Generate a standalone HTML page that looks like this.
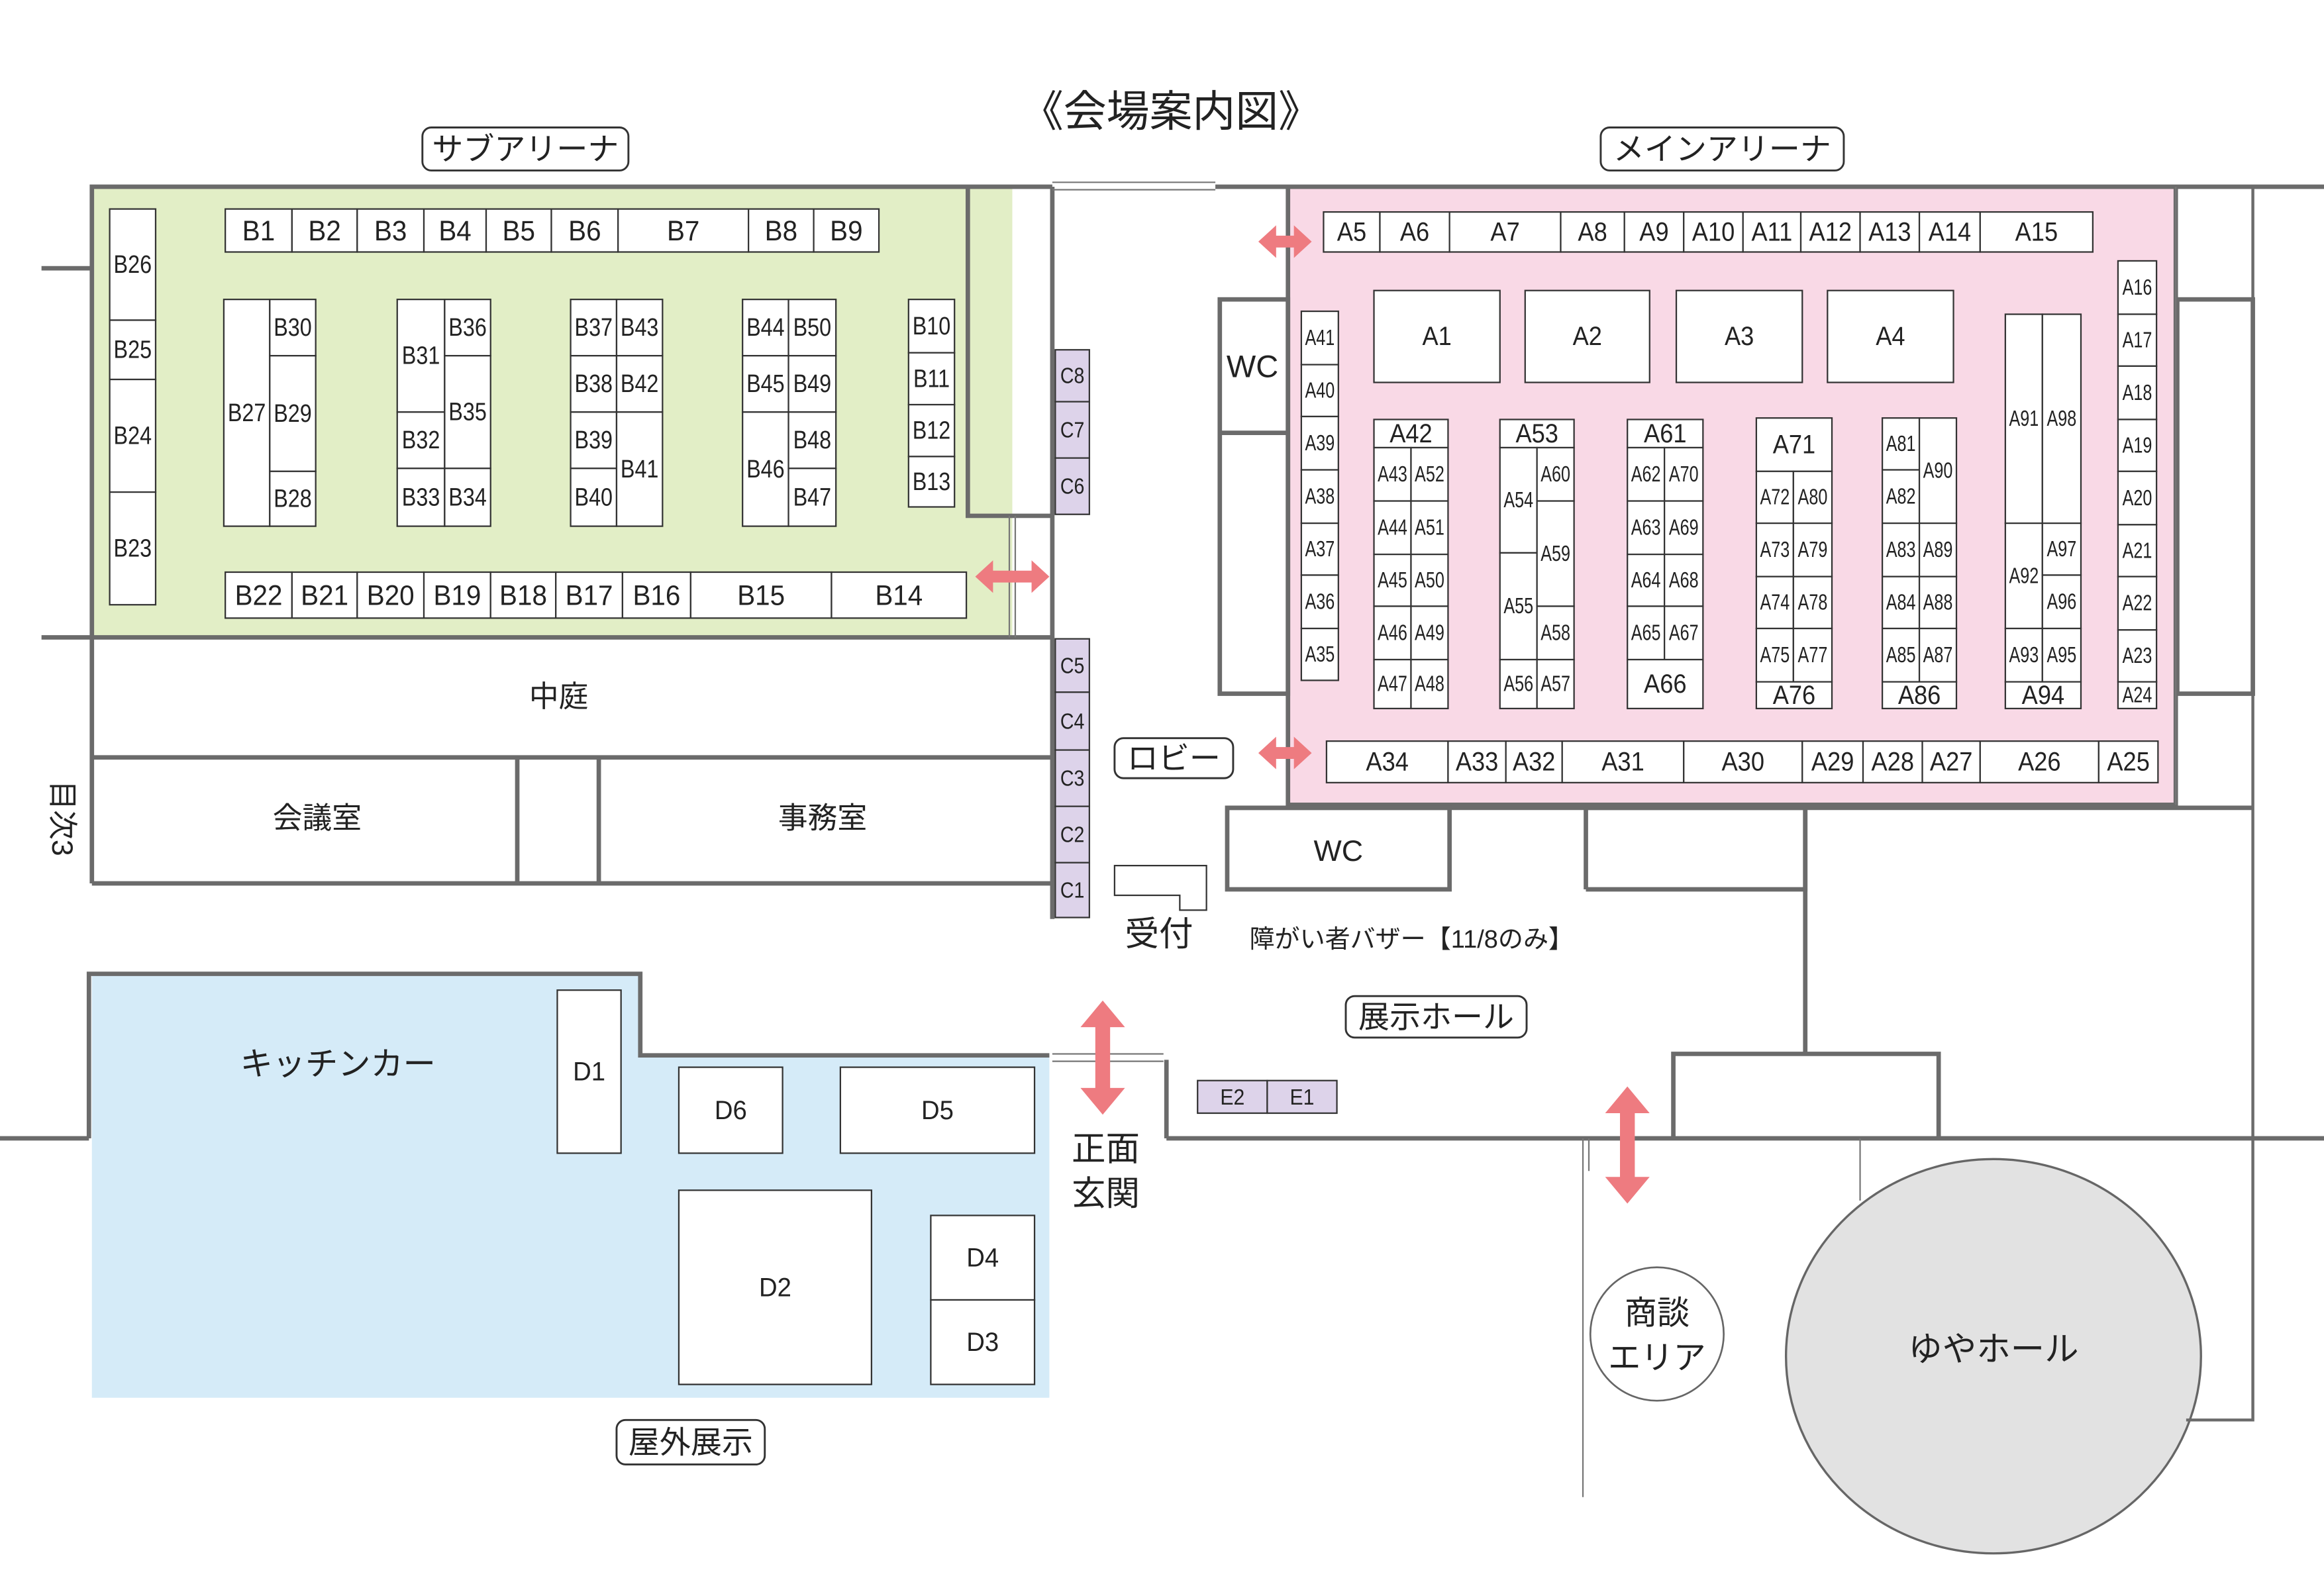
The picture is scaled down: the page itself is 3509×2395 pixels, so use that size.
<!DOCTYPE html>
<html><head><meta charset="utf-8"><style>
html,body{margin:0;padding:0;background:#fff}
svg{display:block}
text{font-family:"Liberation Sans","Noto Sans CJK JP",sans-serif;fill:#222}
</style></head><body>
<svg id="s" width="3509" height="2395" viewBox="0 0 1568 1070" preserveAspectRatio="none" xmlns="http://www.w3.org/2000/svg">
<rect x="62" y="126" width="621" height="304" fill="#e2eec6"/>
<rect x="869" y="126" width="599" height="417" fill="#f9d9e6"/>
<polygon points="62,657 432,657 432,712 708,712 708,943 62,943" fill="#d5ebf8"/>
<ellipse cx="1345" cy="915" rx="140" ry="133" fill="#e2e2e2" stroke="#666" stroke-width="1.5"/>
<circle cx="1118" cy="900" r="45" fill="#fff" stroke="#666" stroke-width="1.2"/>
<g id="walls" stroke="#6b6b6b" stroke-width="3" fill="none">
<polyline points="28,181 62,181"/>
<polyline points="62,596 62,126 710,126"/>
<polyline points="820,126 1568,126"/>
<polyline points="653,126 653,348 710,348"/>
<polyline points="710,126 710,620"/>
<polyline points="28,430 710,430"/>
<polyline points="62,511 710,511"/>
<polyline points="62,596 710,596"/>
<polyline points="349,511 349,596"/><polyline points="404,511 404,596"/>
<rect x="823" y="202" width="46" height="266"/><line x1="823" y1="292" x2="869" y2="292"/>
<polyline points="869,126 869,543 1468,543 1468,126"/>
<rect x="1469" y="202" width="51" height="266"/>
<polyline points="1520,126 1520,958 1475,958" stroke-width="2"/>
<polyline points="828,545 1520,545"/>
<rect x="828" y="545" width="150" height="55"/>
<polyline points="1070,600 1070,545 1218,545 1218,600 1070,600"/>
<polyline points="1218,545 1218,711"/>
<polyline points="1129,768 1129,711 1308,711 1308,768"/>
<polyline points="787,768 787,715"/>
<polyline points="787,768 1568,768"/>
<polyline points="0,768 60,768"/>
<polyline points="60,768 60,657 432,657 432,712 708,712"/>
</g>
<g stroke="#777" stroke-width="1" fill="none">
<line x1="710" y1="123" x2="820" y2="123"/><line x1="710" y1="128" x2="820" y2="128"/>
<line x1="710" y1="711" x2="785" y2="711"/><line x1="710" y1="716" x2="785" y2="716"/>
<line x1="681" y1="348" x2="681" y2="430"/><line x1="685" y1="348" x2="685" y2="430"/>
<line x1="1068" y1="768" x2="1068" y2="1010"/><line x1="1072" y1="768" x2="1072" y2="790"/>
<line x1="1255" y1="768" x2="1255" y2="810"/>
<line x1="1468" y1="126" x2="1468" y2="543"/>
</g>
<g id="b"></g>
</svg>
<script>
const S=document.getElementById('b');let h='';
function R(x,y,w,hh,fill,sw){h+=`<rect x="${x}" y="${y}" width="${w}" height="${hh}" fill="${fill||'#fff'}" stroke="#333" stroke-width="${sw||1}"/>`;}
function T(x,y,s,fs,sx,anchor){fs=fs||17;sx=sx||0.85;h+=`<text transform="translate(${x},${y}) scale(${sx},1)" font-size="${fs}" text-anchor="${anchor||'middle'}" dominant-baseline="central">${s}</text>`;}
function B(x1,y1,x2,y2,s,fs,sx,fill){R(x1,y1,x2-x1,y2-y1,fill);if(s)T((x1+x2)/2,(y1+y2)/2,s,fs,sx);}
function row(y1,y2,xs,labels,fs,sx){for(let i=0;i<labels.length;i++)B(xs[i],y1,xs[i+1],y2,labels[i],fs,sx);}
function col(x1,x2,ys,labels,fs,sx){for(let i=0;i<labels.length;i++)B(x1,ys[i],x2,ys[i+1],labels[i],fs,sx);}
// B
row(141,170,[152,197,241,286,328,372,417,505,549,593],['B1','B2','B3','B4','B5','B6','B7','B8','B9'],19,0.95);
col(74,105,[141,216,256,332,408],['B26','B25','B24','B23'],17,0.85);
B(151,202,182,355,'B27');col(182,213,[202,240,318,355],['B30','B29','B28']);
B(268,202,300,278,'B31');B(268,278,300,316,'B32');B(268,316,300,355,'B33');
B(300,202,331,240,'B36');B(300,240,331,316,'B35');B(300,316,331,355,'B34');
col(385,416,[202,240,278,316,355],['B37','B38','B39','B40']);
B(416,202,447,240,'B43');B(416,240,447,278,'B42');B(416,278,447,355,'B41');
col(501,532,[202,240,278],['B44','B45']);B(501,278,532,355,'B46');
col(532,564,[202,240,278,316,355],['B50','B49','B48','B47']);
col(613,644,[202,238,273,308,342],['B10','B11','B12','B13']);
row(386,417,[152,197,241,286,331,375,420,466,561,652],['B22','B21','B20','B19','B18','B17','B16','B15','B14'],19,0.95);
// C
col(712,735,[236,271,309,347],['C8','C7','C6'],15,0.85,);
col(712,735,[431,467,506,544,582,619],['C5','C4','C3','C2','C1'],15,0.85);
// A
row(143,170,[893,931,978,1053,1096,1136,1176,1215,1255,1295,1336,1412],['A5','A6','A7','A8','A9','A10','A11','A12','A13','A14','A15'],18,0.9);
col(878,903,[210,246,281,317,353,388,424,459],['A41','A40','A39','A38','A37','A36','A35'],15,0.75);
[[927,1012,'A1'],[1029,1113,'A2'],[1131,1216,'A3'],[1233,1318,'A4']].forEach(a=>B(a[0],196,a[1],258,a[2],18,0.9));
B(927,283,977,302,'A42',18,0.9);col(927,952,[302,338,374,409,445,478],['A43','A44','A45','A46','A47'],15,0.75);col(952,977,[302,338,374,409,445,478],['A52','A51','A50','A49','A48'],15,0.75);
B(1012,283,1062,302,'A53',18,0.9);col(1012,1037,[302,373,445,478],['A54','A55','A56'],15,0.75);col(1037,1062,[302,338,409,445,478],['A60','A59','A58','A57'],15,0.75);
B(1098,283,1149,302,'A61',18,0.9);col(1098,1123,[302,338,374,409,445],['A62','A63','A64','A65'],15,0.75);col(1123,1149,[302,338,374,409,445],['A70','A69','A68','A67'],15,0.75);B(1098,445,1149,478,'A66',18,0.9);
B(1185,282,1236,318,'A71',18,0.9);col(1185,1210,[318,353,389,424,460],['A72','A73','A74','A75'],15,0.75);col(1210,1236,[318,353,389,424,460],['A80','A79','A78','A77'],15,0.75);B(1185,460,1236,478,'A76',18,0.9);
col(1270,1295,[282,317,353,389,424,460],['A81','A82','A83','A84','A85'],15,0.75);B(1295,282,1320,353,'A90',15,0.75);col(1295,1320,[353,389,424,460],['A89','A88','A87'],15,0.75);B(1270,460,1320,478,'A86',18,0.9);
B(1353,212,1378,353,'A91',15,0.75);B(1378,212,1404,353,'A98',15,0.75);B(1353,353,1378,424,'A92',15,0.75);col(1378,1404,[353,388,424],['A97','A96'],15,0.75);B(1353,424,1378,460,'A93',15,0.75);B(1378,424,1404,460,'A95',15,0.75);B(1353,460,1404,478,'A94',18,0.9);
col(1429,1455,[176,212,247,283,318,354,389,425,460,478],['A16','A17','A18','A19','A20','A21','A22','A23','A24'],15,0.75);
row(500,528,[895,977,1016,1054,1136,1216,1257,1297,1336,1416,1456],['A34','A33','A32','A31','A30','A29','A28','A27','A26','A25'],18,0.9);
// E
B(808,729,855,751,'E2',15,0.9,'#ddd3ea');B(855,729,902,751,'E1',15,0.9,'#ddd3ea');
// D
B(376,668,419,778,'D1',18,0.95);B(458,720,528,778,'D6',18,0.95);B(567,720,698,778,'D5',18,0.95);B(458,803,588,934,'D2',18,0.95);B(628,820,698,877,'D4',18,0.95);B(628,877,698,934,'D3',18,0.95);
// reception
h+='<polygon points="752,584 814,584 814,614 796,614 796,604 752,604" fill="#fff" stroke="#333"/>';
S.innerHTML=h;
// lavender fill for C
S.querySelectorAll('rect').forEach(r=>{const x=+r.getAttribute('x');if(x===712)r.setAttribute('fill','#ddd3ea');});
</script>
<svg width="0" height="0"></svg>
<script>
const s2=document.getElementById('s');let g='';
function L(x1,y1,x2,y2,s,fs){g+=`<rect x="${x1}" y="${y1}" width="${x2-x1}" height="${y2-y1}" rx="6" fill="#fff" stroke="#333" stroke-width="1.3"/><text x="${(x1+x2)/2}" y="${(y1+y2)/2}" font-size="${fs||21}" text-anchor="middle" dominant-baseline="central">${s}</text>`;}
function P(x,y,s,fs,a){g+=`<text x="${x}" y="${y}" font-size="${fs||20}" text-anchor="${a||'middle'}" dominant-baseline="central">${s}</text>`;}
function AH(x1,x2,y){g+=`<polygon points="${x1},${y} ${x1+12},${y-11} ${x1+12},${y-4} ${x2-12},${y-4} ${x2-12},${y-11} ${x2},${y} ${x2-12},${y+11} ${x2-12},${y+4} ${x1+12},${y+4} ${x1+12},${y+11}" fill="#ee7b80"/>`;}
function AV(x,y1,y2){g+=`<polygon points="${x},${y1} ${x+15},${y1+18} ${x+5},${y1+18} ${x+5},${y2-18} ${x+15},${y2-18} ${x},${y2} ${x-15},${y2-18} ${x-5},${y2-18} ${x-5},${y1+18} ${x-15},${y1+18}" fill="#ee7b80"/>`;}
P(790,75,'《会場案内図》',29);
L(285,86,424,115,'サブアリーナ');L(1080,86,1244,115,'メインアリーナ');
L(752,498,832,525,'ロビー');L(908,672,1030,700,'展示ホール');L(416,958,516,988,'屋外展示');
AH(658,708,389);AH(849,885,163);AH(849,885,508);AV(744,675,752);AV(1098,733,812);
P(845,247,'WC',21);P(903,574,'WC',20);
P(377,470,'中庭',20);P(214,552,'会議室',20);P(555,552,'事務室',20);
g+='<text transform="translate(42,552) rotate(90)" font-size="20" text-anchor="middle" dominant-baseline="central">目次3</text>';
P(782,630,'受付',23);P(843,634,'障がい者バザー【11/8のみ】',17,'start');
P(228,718,'キッチンカー',22);
P(746,775,'正面',23);P(746,805,'玄関',23);
P(1118,886,'商談',22);P(1118,916,'エリア',22);
P(1345,910,'ゆやホール',23);
s2.insertAdjacentHTML('beforeend',g);
</script>
</body></html>
